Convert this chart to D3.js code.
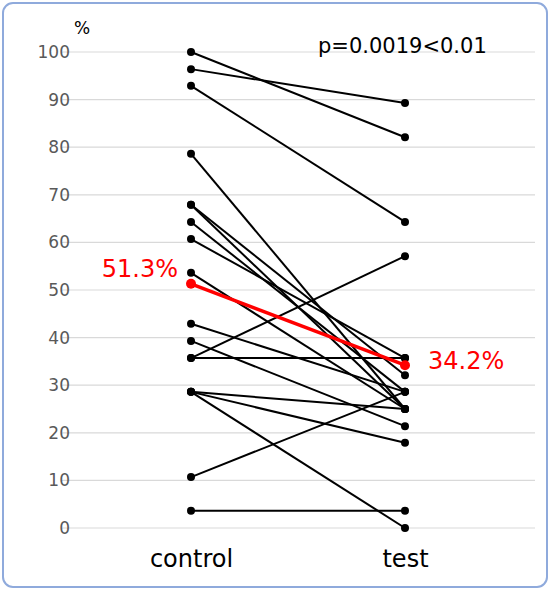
<!DOCTYPE html>
<html>
<head>
<meta charset="utf-8">
<script src="https://cdn.jsdelivr.net/npm/d3@7"></script>
<style>
  body { margin: 0; background: #fff; }
  text { font-family: "DejaVu Sans", Verdana, sans-serif; }
</style>
</head>
<body>
<script>
var groups = ["control", "test"];
// paired values per subject (%)
var controlVals = [100, 96.4, 92.9, 78.6, 67.9, 67.9, 64.3, 60.7, 53.6, 42.9, 39.3, 35.7, 35.7, 28.6, 28.6, 28.6, 10.7, 3.6];
var testVals    = [82.1, 89.3, 64.3, 25, 32.1, 25, 28.6, 35.7, 25, 28.6, 21.4, 57.1, 35.7, 25, 17.9, 0, 28.6, 3.6];
var meanVals = [51.3, 34.2];
var meanLabels = ["51.3%", "34.2%"];
var yTicks = [0, 10, 20, 30, 40, 50, 60, 70, 80, 90, 100];
var pText = "p=0.0019<0.01";

var width = 550, height = 590;

var svg = d3.select("body").append("svg")
    .attr("width", width)
    .attr("height", height);

svg.append("rect")
    .attr("x", 3).attr("y", 3)
    .attr("width", width - 6).attr("height", height - 6)
    .attr("rx", 10)
    .attr("fill", "#fff")
    .attr("stroke", "#8faadc")
    .attr("stroke-width", 2);

var x = d3.scalePoint()
    .domain(groups)
    .range([191, 405]);

var y = d3.scaleLinear()
    .domain([0, 100])
    .range([528, 52]);

// grid
svg.append("g")
  .selectAll("line")
    .data(yTicks)
  .enter().append("line")
    .attr("x1", 62).attr("x2", 535)
    .attr("y1", function(d) { return y(d); })
    .attr("y2", function(d) { return y(d); })
    .attr("stroke", "#d9d9d9")
    .attr("stroke-width", 1.2);

var yAxis = d3.axisLeft(y).tickValues(yTicks).tickSize(0).tickPadding(0);
var gy = svg.append("g")
    .attr("transform", "translate(70,0)")
    .call(yAxis);
gy.select(".domain").remove();
gy.selectAll("text")
    .attr("fill", "#595959")
    .style("font-family", "'DejaVu Sans', sans-serif")
    .style("font-size", "17px");

var xAxis = d3.axisBottom(x).tickSize(0).tickPadding(0);
var gx = svg.append("g")
    .attr("transform", "translate(0,548)")
    .call(xAxis);
gx.select(".domain").remove();
gx.selectAll("text")
    .attr("fill", "#000")
    .attr("dy", "0.78em")
    .style("font-family", "'DejaVu Sans', sans-serif")
    .style("font-size", "24px");

svg.append("text")
    .attr("x", 74).attr("y", 34)
    .attr("font-size", 17)
    .attr("fill", "#000")
    .text("%");

svg.append("text")
    .attr("x", 318).attr("y", 53)
    .attr("font-size", 21)
    .attr("fill", "#000")
    .text(pText);

var pairs = controlVals.map(function(v, i) { return [v, testVals[i]]; });

svg.append("g")
  .selectAll("line")
    .data(pairs)
  .enter().append("line")
    .attr("x1", x("control"))
    .attr("x2", x("test"))
    .attr("y1", function(d) { return y(d[0]); })
    .attr("y2", function(d) { return y(d[1]); })
    .attr("stroke", "#000")
    .attr("stroke-width", 2);

var dots = [];
pairs.forEach(function(d) {
  dots.push({g: "control", v: d[0]});
  dots.push({g: "test", v: d[1]});
});

svg.append("g")
  .selectAll("circle")
    .data(dots)
  .enter().append("circle")
    .attr("cx", function(d) { return x(d.g); })
    .attr("cy", function(d) { return y(d.v); })
    .attr("r", 4)
    .attr("fill", "#000");

// mean line
svg.append("line")
    .attr("x1", x("control")).attr("x2", x("test"))
    .attr("y1", y(meanVals[0])).attr("y2", y(meanVals[1]))
    .attr("stroke", "#ff0000")
    .attr("stroke-width", 3.5);

svg.append("g")
  .selectAll("circle")
    .data(meanVals)
  .enter().append("circle")
    .attr("cx", function(d, i) { return x(groups[i]); })
    .attr("cy", function(d) { return y(d); })
    .attr("r", 5)
    .attr("fill", "#ff0000");

svg.append("text")
    .attr("x", x("control") - 13)
    .attr("y", y(meanVals[0]) - 7)
    .attr("text-anchor", "end")
    .attr("font-size", 24)
    .attr("fill", "#ff0000")
    .text(meanLabels[0]);

svg.append("text")
    .attr("x", x("test") + 23)
    .attr("y", y(meanVals[1]) + 4)
    .attr("text-anchor", "start")
    .attr("font-size", 24)
    .attr("fill", "#ff0000")
    .text(meanLabels[1]);
</script>
</body>
</html>
